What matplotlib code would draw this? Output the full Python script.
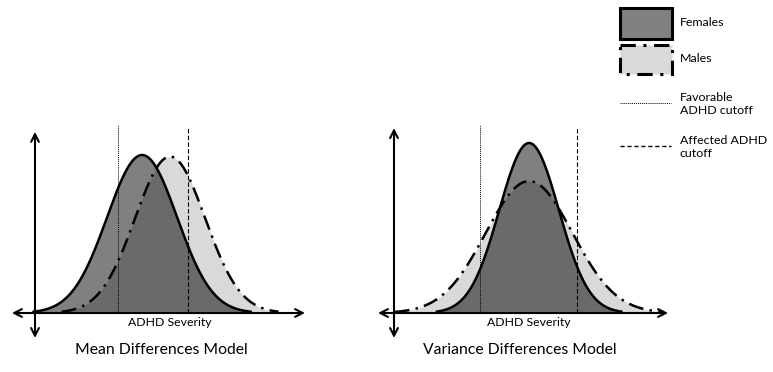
import numpy as np
import matplotlib
matplotlib.use("Agg")
import matplotlib.pyplot as plt
from matplotlib.patches import Rectangle

plt.rcParams["font.family"] = ["Lato", "DejaVu Sans"]

# panel data (severity units, height relative to left female peak)
panels = ["Mean Differences Model", "Variance Differences Model"]
female_mean = [3.06, 3.86]
female_sd = [1.0, 0.85]
female_peak = [1.0, 1.076]
male_mean = [3.86, 3.86]
male_sd = [1.0, 1.24]
male_peak = [0.99, 0.835]
favorable_cutoff = [2.37, 2.46]
affected_cutoff = [4.37, 5.23]
axis_label = "ADHD Severity"
legend_labels = ["Females", "Males", "Favorable\nADHD cutoff", "Affected ADHD\ncutoff"]

FEM_C = "#808080"
MALE_C = "#d9d9d9"
BOTH_C = "#6a6a6a"
MALE_DASH = (6, 2.5, 1, 2.5)

W, H = 773, 372
fig = plt.figure(figsize=(W / 100, H / 100), dpi=100)

PXX, PXY = 35.0, 158.0  # pixels per unit
origins = [(35, 313), (394, 313)]


def bell(x, m, s, p):
    return p * np.exp(-0.5 * ((x - m) / s) ** 2)


for i, (ox, oy) in enumerate(origins):
    left_px, right_px = ox - 35, ox + 285
    top_px, bot_px = 110, 360
    ax = fig.add_axes([left_px / W, 1 - bot_px / H,
                       (right_px - left_px) / W, (bot_px - top_px) / H])
    ax.set_xlim((left_px - ox) / PXX, (right_px - ox) / PXX)
    ax.set_ylim(-(bot_px - oy) / PXY, (oy - top_px) / PXY)
    ax.axis("off")

    xf = np.linspace(female_mean[i] - 3.1 * female_sd[i], female_mean[i] + 3.1 * female_sd[i], 400)
    xm = np.linspace(male_mean[i] - 3.1 * male_sd[i], male_mean[i] + 3.1 * male_sd[i], 400)
    xa = np.linspace(min(xf[0], xm[0]), max(xf[-1], xm[-1]), 600)
    yf = bell(xf, female_mean[i], female_sd[i], female_peak[i])
    ym = bell(xm, male_mean[i], male_sd[i], male_peak[i])
    yfa = np.where((xa >= xf[0]) & (xa <= xf[-1]), bell(xa, female_mean[i], female_sd[i], female_peak[i]), 0)
    yma = np.where((xa >= xm[0]) & (xa <= xm[-1]), bell(xa, male_mean[i], male_sd[i], male_peak[i]), 0)

    ax.fill_between(xm, 0, ym, color=MALE_C, lw=0, zorder=1)
    ax.fill_between(xf, 0, yf, color=FEM_C, lw=0, zorder=2)
    ax.fill_between(xa, 0, np.minimum(yfa, yma), color=BOTH_C, lw=0, zorder=3)
    ax.plot(xf, yf, color="black", lw=1.8, zorder=5)
    ax.plot(xm, ym, color="black", lw=1.8, dashes=MALE_DASH, zorder=6)

    ax.plot([favorable_cutoff[i]] * 2, [0, 1.19], color="black", lw=0.7, ls=(0, (1, 1)), zorder=7)
    ax.plot([affected_cutoff[i]] * 2, [0, 1.17], color="black", lw=0.8, ls=(0, (4, 2)), zorder=7)

    # axes arrows
    x0 = -23 / PXX if i == 0 else -16 / PXX
    x1 = 270 / PXX if i == 0 else 274 / PXX
    arrow = dict(arrowstyle="<->,head_length=0.55,head_width=0.28", color="black", lw=1.5,
                 shrinkA=0, shrinkB=0)
    ax.annotate("", xy=(x1, 0), xytext=(x0, 0), arrowprops=arrow, zorder=8)
    ytop = 1.146 if i == 0 else 1.17
    ax.annotate("", xy=(0, ytop), xytext=(0, -0.158), arrowprops=arrow, zorder=8)

    ax.text(3.86, -0.028, axis_label, ha="center", va="top", fontsize=8.8)
    ax.text(3.6, -0.19, panels[i], ha="center", va="top", fontsize=11.3)

# legend, laid out in pixel coordinates of its own axes
lax = fig.add_axes([600 / W, 1 - 170 / H, 173 / W, 170 / H])
lax.set_xlim(600, 773)
lax.set_ylim(170, 0)
lax.axis("off")
lax.add_patch(Rectangle((620, 8), 52, 31, facecolor=FEM_C, edgecolor="black", lw=2.2,
                        joinstyle="miter"))
lax.add_patch(Rectangle((620, 45), 52, 29, facecolor=MALE_C, edgecolor="black", lw=2.2,
                        ls=(0, (5, 2.5, 1, 2.5)), joinstyle="miter"))
lax.plot([620, 671], [103, 103], color="black", lw=0.7, ls=(0, (1, 1)))
lax.plot([620, 671], [146, 146], color="black", lw=1.0, ls=(0, (3, 2)))
for label, yc in zip(legend_labels, [23, 59, 104, 147]):
    lax.text(680, yc, label, ha="left", va="center", fontsize=8.9, linespacing=1.3)

fig.savefig("out.png", dpi=100)
